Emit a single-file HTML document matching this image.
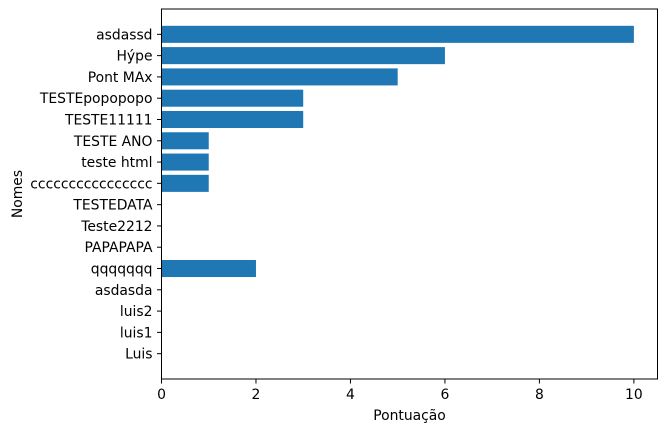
<!DOCTYPE html>
<html><head><meta charset="utf-8">
<style>
html,body{margin:0;padding:0;background:#fff;}
svg{display:block;font-family:"DejaVu Sans","Liberation Sans",sans-serif;}
</style></head>
<body>
<svg id="chart" width="667" height="432"></svg>
<script>
const categories = ["Luis","luis1","luis2","asdasda","qqqqqqq","PAPAPAPA","Teste2212","TESTEDATA","cccccccccccccccc","teste html","TESTE ANO","TESTE11111","TESTEpopopopo","Pont MAx","Hýpe","asdassd"];
const values = [0,0,0,0,2,0,0,0,1,1,1,3,3,5,6,10];
const xTicks = [0,2,4,6,8,10];

const L=161.5, R=657.5, T=9, B=379;
const xMin=0, xMax=10.5;
const yMin=-1.19, yMax=categories.length-1+1.19;
const xs=v=>L+(v-xMin)/(xMax-xMin)*(R-L);
const ys=i=>B-(i-yMin)/(yMax-yMin)*(B-T);
const NS="http://www.w3.org/2000/svg";
const svg=document.getElementById('chart');
const FS=13.9;
function mk(tag,attrs,parent){const e=document.createElementNS(NS,tag);for(const k in attrs)e.setAttribute(k,attrs[k]);(parent||svg).appendChild(e);return e;}

const bh=(ys(0)-ys(0.8));
values.forEach((v,i)=>{
  const r=mk('rect',{x:xs(0),y:ys(i)-bh/2,width:Math.max(0,xs(v)-xs(0)),height:bh,fill:'#1f77b4'});
  
  
});

const frame=mk('rect',{x:L,y:T,width:R-L,height:B-T,fill:'none',stroke:'#000','stroke-width':1});



xTicks.forEach(t=>{
  mk('line',{x1:xs(t),x2:xs(t),y1:B,y2:B+4.5,stroke:'#000','stroke-width':1});
  const tx=mk('text',{x:xs(t),y:B+20,'text-anchor':'middle','font-size':FS,fill:'#000'});
  tx.textContent=t;
  
  
});
categories.forEach((c,i)=>{
  mk('line',{x1:L-4.5,x2:L,y1:ys(i),y2:ys(i),stroke:'#000','stroke-width':1});
  const tx=mk('text',{x:L-9,y:ys(i)+5,'text-anchor':'end','font-size':FS,fill:'#000'});
  tx.textContent=c;
  
  
});
const xt=mk('text',{x:(L+R)/2,y:420,'text-anchor':'middle','font-size':FS,fill:'#000'});
xt.textContent='Pontuação';


const yt=mk('text',{x:0,y:0,'text-anchor':'middle','font-size':FS,fill:'#000',transform:`translate(22 ${(T+B)/2}) rotate(-90)`});
yt.textContent='Nomes';


</script>
</body></html>
